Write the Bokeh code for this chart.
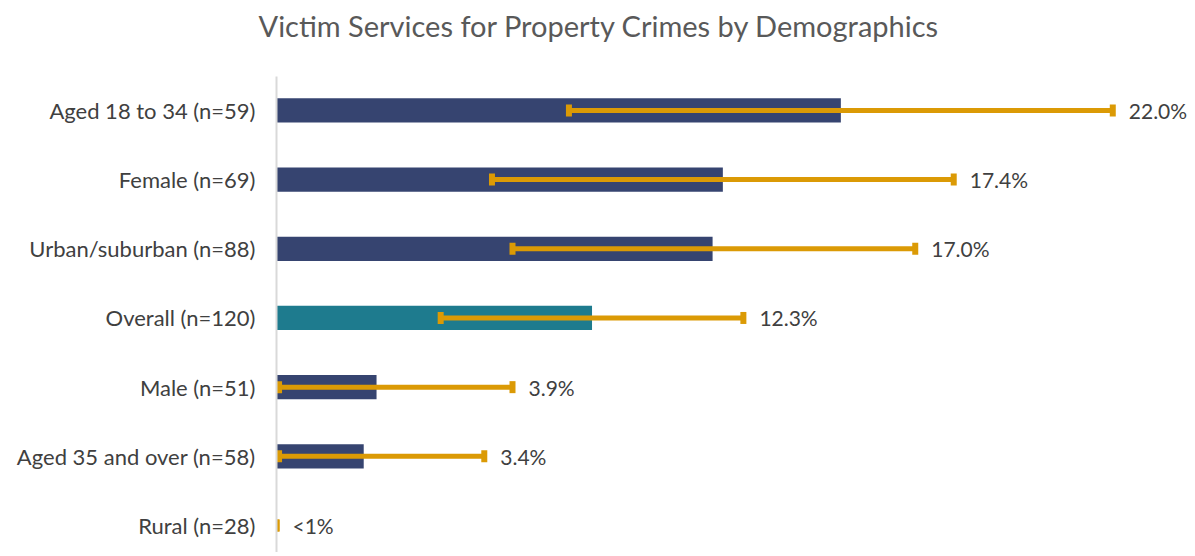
from bokeh.plotting import figure
from bokeh.models import Range1d, ColumnDataSource, FixedTicker, Title
from bokeh.core.properties import value
from bokeh.embed import file_html
from bokeh.resources import INLINE

# ---- data ----
categories = ["Aged 18 to 34 (n=59)", "Female (n=69)", "Urban/suburban (n=88)",
              "Overall (n=120)", "Male (n=51)", "Aged 35 and over (n=58)", "Rural (n=28)"]
values = [22.0, 17.4, 17.0, 12.3, 3.9, 3.4, 0.0]
lower = [11.4, 8.4, 9.2, 6.4, 0.1, 0.1, 0.0]
upper = [32.6, 26.4, 24.9, 18.2, 9.2, 8.1, 0.0]
value_labels = ["22.0%", "17.4%", "17.0%", "12.3%", "3.9%", "3.4%", "<1%"]
bar_colors = ["#364470", "#364470", "#364470", "#1E7B8E", "#364470", "#364470", "#364470"]
title_text = "Victim Services for Property Crimes by Demographics"

FONT = "Lato"
TEXT = "#404040"
GOLD = "#DB9A05"

n = len(categories)
ypos = [n - 1 - i for i in range(n)]

src = ColumnDataSource(dict(y=ypos, v=values, lo=lower, hi=upper,
                            lab=value_labels, col=bar_colors))

W, H = 1190, 552
LEFT, TOP = 276, 75
p = figure(width=W, height=H, output_backend="svg", toolbar_location=None,
           x_range=Range1d(0, 35.63), y_range=Range1d(-0.39, 6.49),
           x_axis_location=None, min_border_left=LEFT, min_border_right=0,
           min_border_top=TOP, min_border_bottom=0, title=None)
p.outline_line_color = None
p.grid.visible = False
p.background_fill_color = "white"
p.border_fill_color = "white"

p.hbar(y="y", left=0, right="v", height=0.35, fill_color="col", line_color=None, source=src)
p.segment(x0="lo", y0="y", x1="hi", y1="y", line_color=GOLD, line_width=5, source=src)
p.rect(x="lo", y="y", width=6, height=12, width_units="screen", height_units="screen",
       fill_color=GOLD, line_color=None, source=src)
p.rect(x="hi", y="y", width=6, height=12, width_units="screen", height_units="screen",
       fill_color=GOLD, line_color=None, source=src)
p.text(x="hi", y="y", text="lab", x_offset=16, text_baseline="middle", text_align="left",
       text_font=value(FONT), text_font_size="21px", text_color=TEXT, source=src)

ax = p.yaxis[0]
ax.ticker = FixedTicker(ticks=ypos)
ax.major_label_overrides = {y: c for y, c in zip(ypos, categories)}
ax.major_tick_in = 0
ax.major_tick_out = 0
ax.minor_tick_in = 0
ax.minor_tick_out = 0
ax.axis_line_color = "#D9D9D9"
ax.axis_line_width = 2
ax.major_label_standoff = 21
ax.major_label_text_font = FONT
ax.major_label_text_font_size = "22px"
ax.major_label_text_color = TEXT

# spacer between title and plot area
spacer = Title(text=" ", text_font_size="16px", standoff=10, text_color="white")
p.add_layout(spacer, "above")
title = Title(text=title_text, align="left", offset=-18, text_font=FONT,
              text_font_size="29px", text_color="#595959", text_font_style="normal",
              standoff=10)
p.add_layout(title, "above")

open("out.html", "w").write(file_html(p, INLINE))
